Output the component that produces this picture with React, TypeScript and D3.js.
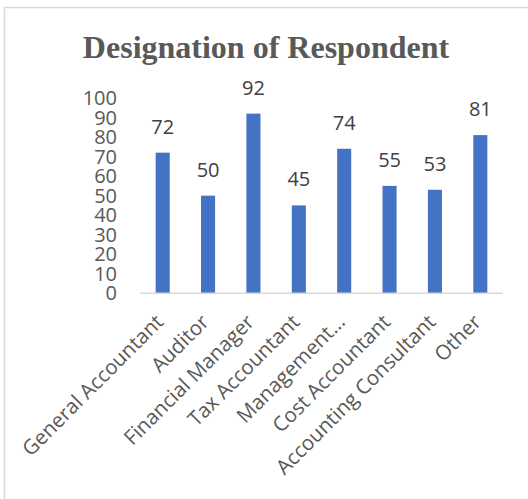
import React from "react";
import * as d3 from "d3";

const categories = [
  "General Accountant",
  "Auditor",
  "Financial Manager",
  "Tax Accountant",
  "Management…",
  "Cost Accountant",
  "Accounting Consultant",
  "Other",
];
const values = [72, 50, 92, 45, 74, 55, 53, 81];
const yTicks = [0, 10, 20, 30, 40, 50, 60, 70, 80, 90, 100];
const title = "Designation of Respondent";

const W = 528;
const H = 499;
const plotLeft = 140;
const plotRight = 503;
const plotTop = 98;
const plotBottom = 293.3;
const textColor = "#595959";
const barColor = "#4472C4";
const font = "'Open Sans', sans-serif";

export default function App() {
  const x = d3
    .scaleBand<string>()
    .domain(categories)
    .range([plotLeft, plotRight])
    .paddingInner(0.69)
    .paddingOuter(0.345);
  const y = d3.scaleLinear().domain([0, 100]).range([plotBottom, plotTop]);
  const bw = x.bandwidth();

  return (
    <svg
      width={W}
      height={H}
      style={{ position: "absolute", left: 0, top: 0, background: "#fff" }}
    >
      <rect x={0} y={0} width={W} height={H} fill="#fff" />
      <rect
        x={4.5}
        y={7.5}
        width={W + 20}
        height={H + 20}
        fill="none"
        stroke="#d9d9d9"
        strokeWidth={1.5}
      />
      <text
        x={266}
        y={58}
        textAnchor="middle"
        fontFamily="'Liberation Serif', 'Times New Roman', serif"
        fontWeight="bold"
        fontSize={32}
        fill={textColor}
      >
        {title}
      </text>
      {yTicks.map((t) => (
        <text
          key={t}
          x={117}
          y={y(t)}
          dy="0.35em"
          textAnchor="end"
          fontFamily={font}
          fontSize={20}
          fill={textColor}
        >
          {t}
        </text>
      ))}
      {values.map((v, i) => {
        const c = categories[i];
        const x0 = x(c)!;
        return (
          <g key={c}>
            <rect x={x0} y={y(v)} width={bw} height={plotBottom - y(v)} fill={barColor} />
            <text
              x={x0 + bw / 2}
              y={y(v) - 19}
              textAnchor="middle"
              fontFamily={font}
              fontSize={20}
              fill="#404040"
            >
              {v}
            </text>
          </g>
        );
      })}
      <line
        x1={plotLeft}
        x2={plotRight}
        y1={plotBottom}
        y2={plotBottom}
        stroke="#d9d9d9"
        strokeWidth={1.5}
      />
      {categories.map((c) => {
        const cx = x(c)! + bw / 2 + 2;
        const cy = plotBottom + 30;
        return (
          <text
            key={c}
            transform={`translate(${cx},${cy}) rotate(-45)`}
            textAnchor="end"
            fontFamily={font}
            fontSize={20.5}
            fill={textColor}
          >
            {c}
          </text>
        );
      })}
    </svg>
  );
}
